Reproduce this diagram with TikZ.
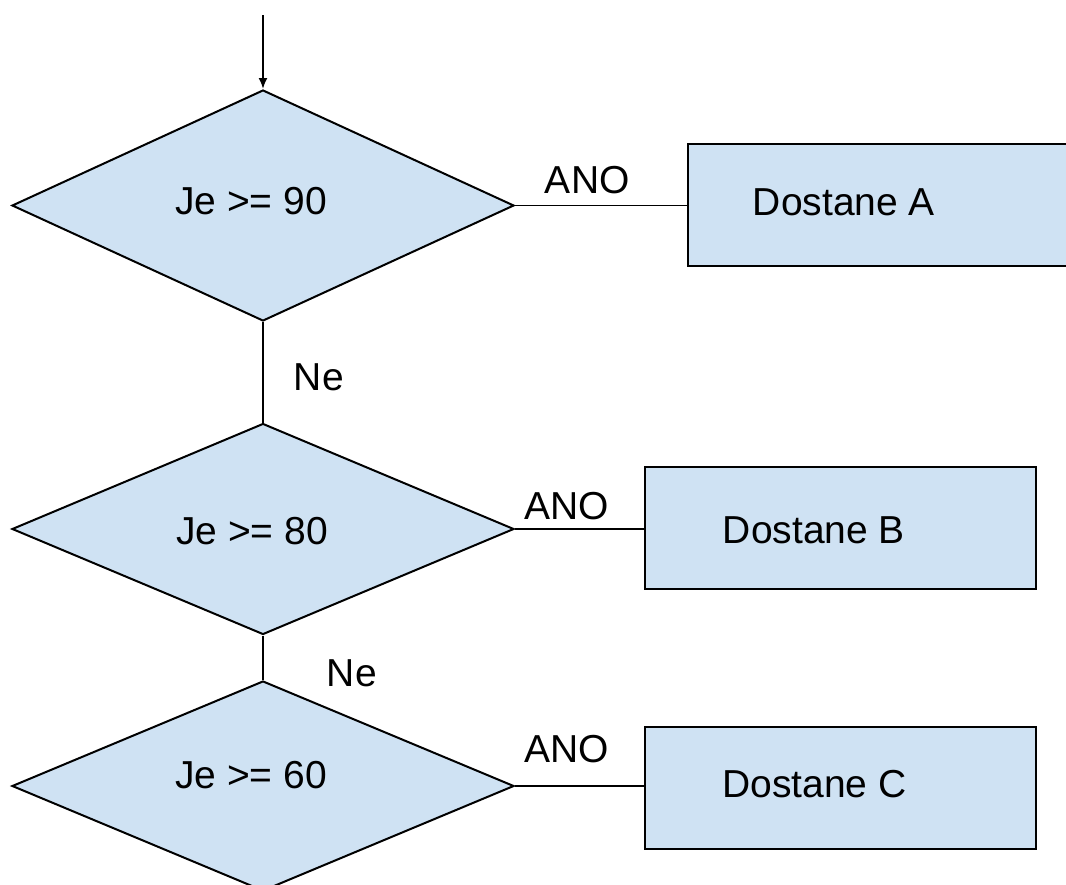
\documentclass[tikz,border=0pt]{standalone}
\usepackage{fontspec}
\setmainfont{Liberation Sans}
\usepackage{tikz}
\usetikzlibrary{%
	shapes.geometric,%
	arrows.meta,%
	calc
}
\definecolor{boxblue}{HTML}{CFE2F3}
\tikzstyle{line}=[draw, line width=1.9pt]
\tikzstyle{decision}=[diamond, draw, fill=boxblue, line width=2pt, inner sep=0pt]
\tikzstyle{outcome}=[rectangle, draw, fill=boxblue, line width=2pt, inner sep=0pt, minimum height=122pt]
\tikzstyle{txt}=[font=\fontsize{39}{47}\selectfont, inner sep=0pt]

\begin{document}
\begin{tikzpicture}[x=1pt, y=-1pt, line join=miter]
		\useasboundingbox (0,0) rectangle (1066,884);
		\clip (0,0) rectangle (1066,884);

		\coordinate (start) at (263,15);

		% Decisions
		\node[decision, minimum width=502pt, minimum height=231pt, label={[txt, xshift=-12pt, yshift=4pt]center:Je >= 90}] (d90) at (263,205.5) {};
		\node[decision, minimum width=502pt, minimum height=211pt, label={[txt, xshift=-11pt, yshift=-2pt]center:Je >= 80}] (d80) at (263,529) {};
		\node[decision, minimum width=502pt, minimum height=210pt, label={[txt, xshift=-12pt, yshift=11pt]center:Je >= 60}] (d60) at (263,786) {};

		% Outcomes
		\node[outcome, minimum width=412pt, label={[txt, xshift=-50pt, yshift=3pt]center:Dostane A}] (rA) at (894,205) {};
		\node[outcome, minimum width=391pt, label={[txt, xshift=-26.5pt, yshift=-2pt]center:Dostane B}] (rB) at (840.5,528) {};
		\node[outcome, minimum width=391pt, label={[txt, xshift=-26pt, yshift=3.5pt]center:Dostane C}] (rC) at (840.5,788) {};

		\draw[line, -{Latex[length=11pt, width=9pt]}] (start) -- (d90.north);

		% No branches
		\draw[line] (d90.south) -- node[txt, anchor=base west, pos=.68, xshift=30pt] (ne1) {Ne} (d80.north);
		\draw[line] (d80.south) -- node[txt, anchor=base west, pos=1, xshift=63pt, yshift=-6pt] (ne2) {Ne} (d60.north);

		% Yes branches
	\foreach \d/\r/\p/\h in {d90/rA/.42/12pt, d80/rB/.40/10pt, d60/rC/.40/24pt}
	\draw[line] (\d.east) -- node[txt, anchor=base, pos=\p, yshift=\h] (ano-\d) {ANO} (\d.east -| \r.west);
	\end{tikzpicture}
\end{document}
